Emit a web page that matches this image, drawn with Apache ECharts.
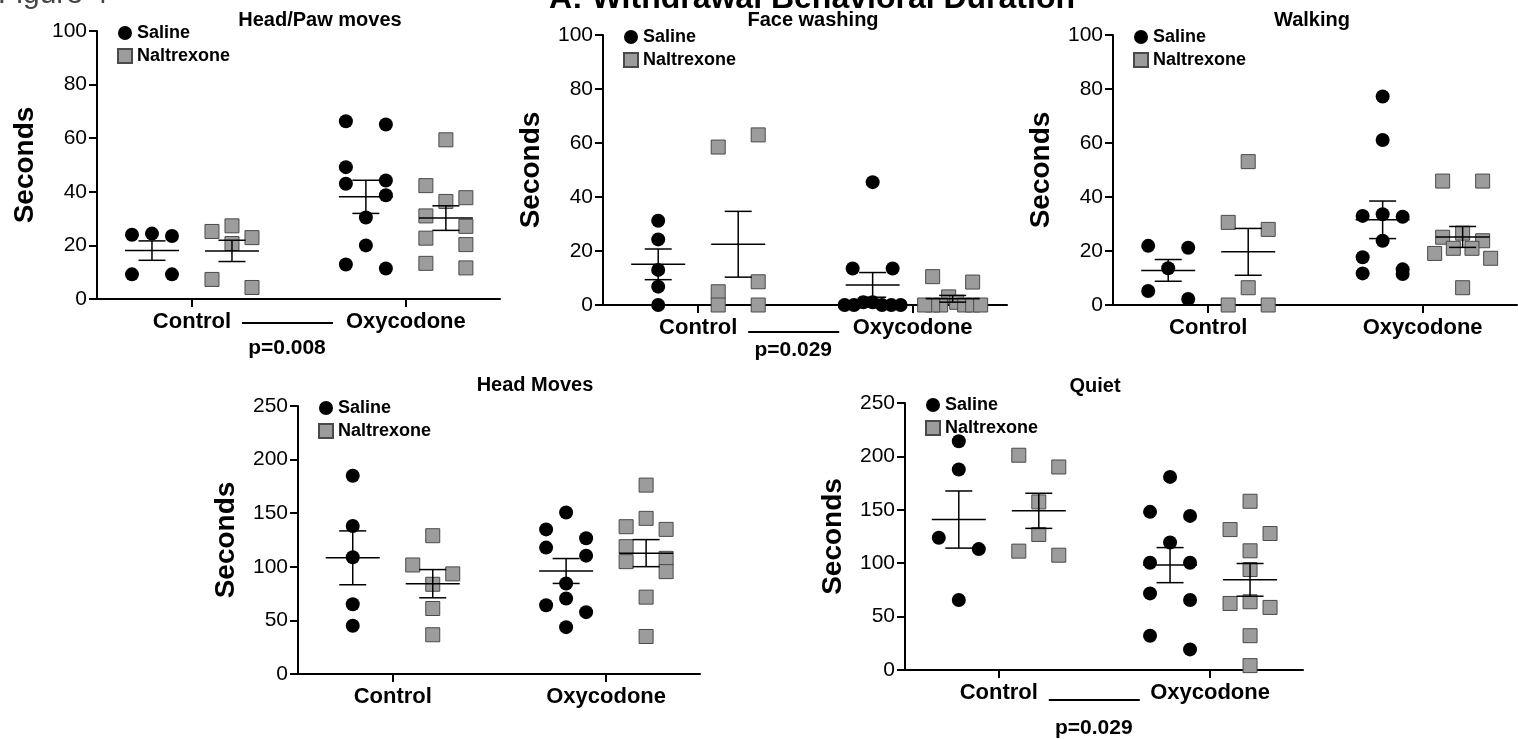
<!DOCTYPE html>
<html>
<head>
<meta charset="utf-8">
<script src="https://cdn.jsdelivr.net/npm/echarts@6/dist/echarts.min.js"></script>
<style>
  html, body { margin: 0; padding: 0; background: #fff; }
  #chart { width: 1518px; height: 739px; }
</style>
</head>
<body>
<div id="chart"></div>
<script>
// categories / groups / ticks
const categories = ['Control', 'Oxycodone'];
const groups = ['Saline', 'Naltrexone'];
const ticks100 = [0, 20, 40, 60, 80, 100];
const ticks250 = [0, 50, 100, 150, 200, 250];
const panelTitles = ['Head/Paw moves', 'Face washing', 'Walking', 'Head Moves', 'Quiet'];
const pValues = ['p=0.008', 'p=0.029', null, null, 'p=0.029'];

// seconds
const headPawCtrlSal = [24.4, 24.0, 23.5, 9.2, 9.2];
const headPawCtrlNal = [27.3, 25.2, 22.9, 20.7, 7.3, 4.3];
const headPawOxySal = [66.3, 65.1, 49.2, 44.2, 43.0, 38.7, 30.4, 20.0, 12.9, 11.4];
const headPawOxyNal = [59.4, 42.3, 37.8, 36.4, 31.0, 27.1, 22.7, 20.3, 13.3, 11.6];

const faceCtrlSal = [31.2, 24.3, 13.0, 6.8, 0];
const faceCtrlNal = [58.5, 63.0, 4.9, 8.6, 0, 0];
const faceOxySal = [45.5, 13.5, 13.5, 1, 1, 0, 0, 0, 0, 0];
const faceOxyNal = [10.5, 8.5, 3, 1, 0, 0, 0, 0, 0, 0];

const walkCtrlSal = [21.9, 21.2, 13.6, 5.2, 2.2];
const walkCtrlNal = [53.1, 30.6, 28.0, 6.4, 0, 0];
const walkOxySal = [77.2, 61.1, 33.6, 33.0, 32.7, 23.8, 17.7, 13.2, 11.7, 11.5];
const walkOxyNal = [45.9, 45.9, 26.6, 25.1, 23.8, 21.0, 21.0, 19.1, 17.3, 6.4];

const headCtrlSal = [184.9, 138.0, 108.9, 65.1, 45.0];
const headCtrlNal = [129.0, 101.7, 93.4, 83.7, 61.1, 36.6];
const headOxySal = [150.7, 134.9, 126.6, 117.9, 110.4, 84.4, 70.4, 64.2, 57.7, 43.7];
const headOxyNal = [176.2, 145.2, 137.4, 134.9, 118.8, 107.9, 104.8, 95.5, 71.7, 35.0];

const quietCtrlSal = [214.2, 187.7, 123.8, 113.2, 65.5];
const quietCtrlNal = [201.1, 190.1, 157.4, 126.9, 111.3, 107.5];
const quietOxySal = [180.8, 148.1, 144.3, 119.4, 100.4, 100.4, 71.7, 65.5, 32.1, 19.3];
const quietOxyNal = [158.0, 131.5, 127.8, 111.6, 94.1, 63.9, 62.3, 58.6, 32.1, 4.1];

const FONT = '"Liberation Sans", Arial, Helvetica, sans-serif';
const SIZE = 14;        // marker size
const SLOT = 20;        // horizontal spacing of spread points
const MAX_SPAN = 56;
const SHIFT = 40;       // saline left / naltrexone right of category tick
const X_MIN = 0.556, X_MAX = 2.44;

// layout only: [left, top, width, height], title centre, p line / text offsets below axis
const panels = [
  { box: [97, 31, 403, 268], ticks: ticks100, titleAt: [320, 20], pDy: [24, 49],
    sets: [[headPawCtrlSal, headPawOxySal], [headPawCtrlNal, headPawOxyNal]] },
  { box: [603, 35, 404, 270], ticks: ticks100, titleAt: [813, 20], pDy: [27, 45],
    sets: [[faceCtrlSal, faceOxySal], [faceCtrlNal, faceOxyNal]] },
  { box: [1113, 35, 404, 270], ticks: ticks100, titleAt: [1312, 20],
    sets: [[walkCtrlSal, walkOxySal], [walkCtrlNal, walkOxyNal]] },
  { box: [298, 406, 402, 268], ticks: ticks250, titleAt: [535, 385],
    sets: [[headCtrlSal, headOxySal], [headCtrlNal, headOxyNal]] },
  { box: [905, 403, 398, 267], ticks: ticks250, titleAt: [1095, 386], pDy: [30, 58],
    sets: [[quietCtrlSal, quietOxySal], [quietCtrlNal, quietOxyNal]] },
];

function mean(a) { return a.reduce((s, v) => s + v, 0) / a.length; }
function sem(a) {
  const m = mean(a);
  const sd = Math.sqrt(a.reduce((s, v) => s + (v - m) * (v - m), 0) / (a.length - 1));
  return sd / Math.sqrt(a.length);
}

// prism-like spread: points close in y share a row, row centred on the group
function spread(vals, pxPerUnit) {
  const order = vals.map((v, i) => i).sort((a, b) => vals[b] - vals[a] || a - b);
  const offs = vals.map(() => 0);
  let row = [];
  const flush = () => {
    const n = row.length;
    const step = n > 1 ? Math.min(n === 2 ? 2 * SLOT : SLOT, MAX_SPAN / (n - 1)) : 0;
    const slots = row.map((k, j) => j - (n - 1) / 2)
      .sort((a, b) => Math.abs(a) - Math.abs(b) || a - b);
    // keep reading order within a row (left to right as listed)
    const inRow = row.slice().sort((a, b) => a - b);
    const sortedSlots = n === 2 ? slots.slice().sort((a, b) => a - b) : slots;
    (n === 2 ? inRow : row).forEach((k, j) => { offs[k] = sortedSlots[j] * step; });
    row = [];
  };
  order.forEach(k => {
    if (row.length && (vals[row[0]] - vals[k]) * pxPerUnit >= SIZE) flush();
    row.push(k);
  });
  flush();
  return offs;
}

const markStyle = [
  { color: '#000', opacity: 1 },
  { color: '#9c9c9c', borderColor: '#4a4a4a', borderWidth: 1, opacity: 1 },
];

const grid = [], xAxis = [], yAxis = [], series = [], legend = [], graphic = [];

panels.forEach((p, i) => {
  const [left, top, width, height] = p.box;
  const yMax = p.ticks[p.ticks.length - 1];
  const pxX = width / (X_MAX - X_MIN);
  const pxY = height / yMax;
  const axisLine = { show: true, onZero: false, lineStyle: { color: '#000', width: 2 } };
  const axisTick = { show: true, length: 8, lineStyle: { color: '#000', width: 2 } };

  grid.push({ left, top, width, height });
  xAxis.push({
    gridIndex: i, type: 'value', min: X_MIN, max: X_MAX,
    axisLine, splitLine: { show: false },
    axisTick: { ...axisTick, customValues: [1, 2] },
    axisLabel: {
      customValues: [1, 2], formatter: v => categories[Math.round(v) - 1],
      margin: 12, fontSize: 22, fontWeight: 'bold', color: '#000', fontFamily: FONT,
    },
  });
  yAxis.push({
    gridIndex: i, type: 'value', min: 0, max: yMax, interval: p.ticks[1] - p.ticks[0],
    name: 'Seconds', nameLocation: 'middle', nameGap: 58, nameRotate: 90,
    nameTextStyle: { fontSize: 28, fontWeight: 'bold', color: '#000', fontFamily: FONT },
    axisLine, axisTick, splitLine: { show: false },
    axisLabel: { fontSize: 21, color: '#000', margin: 10, fontFamily: FONT },
  });

  groups.forEach((g, gi) => {
    const pts = [], bars = [];
    p.sets[gi].forEach((vals, ci) => {
      const cx = ci + 1 + (gi === 0 ? -SHIFT : SHIFT) / pxX;
      const offs = spread(vals, pxY);
      vals.forEach((v, k) => pts.push([cx + offs[k] / pxX, v]));
      bars.push([cx, mean(vals), sem(vals)]);
    });
    series.push({
      name: g, type: 'scatter', xAxisIndex: i, yAxisIndex: i,
      symbol: gi === 0 ? 'circle' : 'rect', symbolSize: SIZE,
      itemStyle: markStyle[gi], data: pts, silent: true, z: 2,
    });
    series.push({
      type: 'custom', xAxisIndex: i, yAxisIndex: i, data: bars, silent: true, z: 3, clip: false,
      renderItem: (params, api) => {
        const x = api.value(0), m = api.value(1), s = api.value(2);
        const c = api.coord([x, m]);
        const hi = api.coord([x, m + s]);
        const lo = api.coord([x, Math.max(0, m - s)]);
        const st = { stroke: '#000', lineWidth: 1.5 };
        const ln = (x1, y1, x2, y2) => ({ type: 'line', shape: { x1, y1, x2, y2 }, style: st });
        return {
          type: 'group',
          children: [
            ln(c[0] - 27, c[1], c[0] + 27, c[1]),
            ln(c[0], hi[1], c[0], lo[1]),
            ln(c[0] - 13.5, hi[1], c[0] + 13.5, hi[1]),
            ln(c[0] - 13.5, lo[1], c[0] + 13.5, lo[1]),
          ],
        };
      },
    });
  });

  legend.push({
    orient: 'vertical', left: left + 20, top: top - 7, padding: 0,
    itemWidth: 14, itemHeight: 14, itemGap: 5, selectedMode: false,
    data: [{ name: 'Saline', icon: 'circle' }, { name: 'Naltrexone', icon: 'rect' }],
    textStyle: { fontSize: 18, fontWeight: 'bold', color: '#000', fontFamily: FONT },
  });

  graphic.push({
    type: 'text', x: p.titleAt[0], y: p.titleAt[1],
    style: { text: panelTitles[i], font: 'bold 20px ' + FONT, fill: '#000',
      align: 'center', verticalAlign: 'middle', textAlign: 'center', textVerticalAlign: 'middle' },
  });

  if (pValues[i]) {
    const tick1 = left + (1 - X_MIN) * pxX;
    const base = top + height;
    graphic.push({
      type: 'line',
      shape: { x1: tick1 + 50, y1: base + p.pDy[0], x2: tick1 + 141, y2: base + p.pDy[0] },
      style: { stroke: '#000', lineWidth: 2 },
    });
    graphic.push({
      type: 'text', x: tick1 + 95, y: base + p.pDy[1],
      style: { text: pValues[i], font: 'bold 21px ' + FONT, fill: '#000',
        align: 'center', verticalAlign: 'middle', textAlign: 'center', textVerticalAlign: 'middle' },
    });
  }
});

// figure header, cut off by the top edge in the original
graphic.push({
  type: 'text', x: -2, y: 10,
  style: { text: 'Figure 4', font: '30px ' + FONT, fill: '#444',
    align: 'left', verticalAlign: 'bottom', textAlign: 'left', textVerticalAlign: 'bottom' },
});
graphic.push({
  type: 'text', x: 812, y: 15,
  style: { text: 'A: Withdrawal Behavioral Duration', font: 'bold 32px ' + FONT, fill: '#000',
    align: 'center', verticalAlign: 'bottom', textAlign: 'center', textVerticalAlign: 'bottom' },
});

const chart = echarts.init(document.getElementById('chart'));
chart.setOption({
  animation: false,
  backgroundColor: '#fff',
  textStyle: { fontFamily: FONT },
  grid, xAxis, yAxis, legend, series, graphic,
});
</script>
</body>
</html>
